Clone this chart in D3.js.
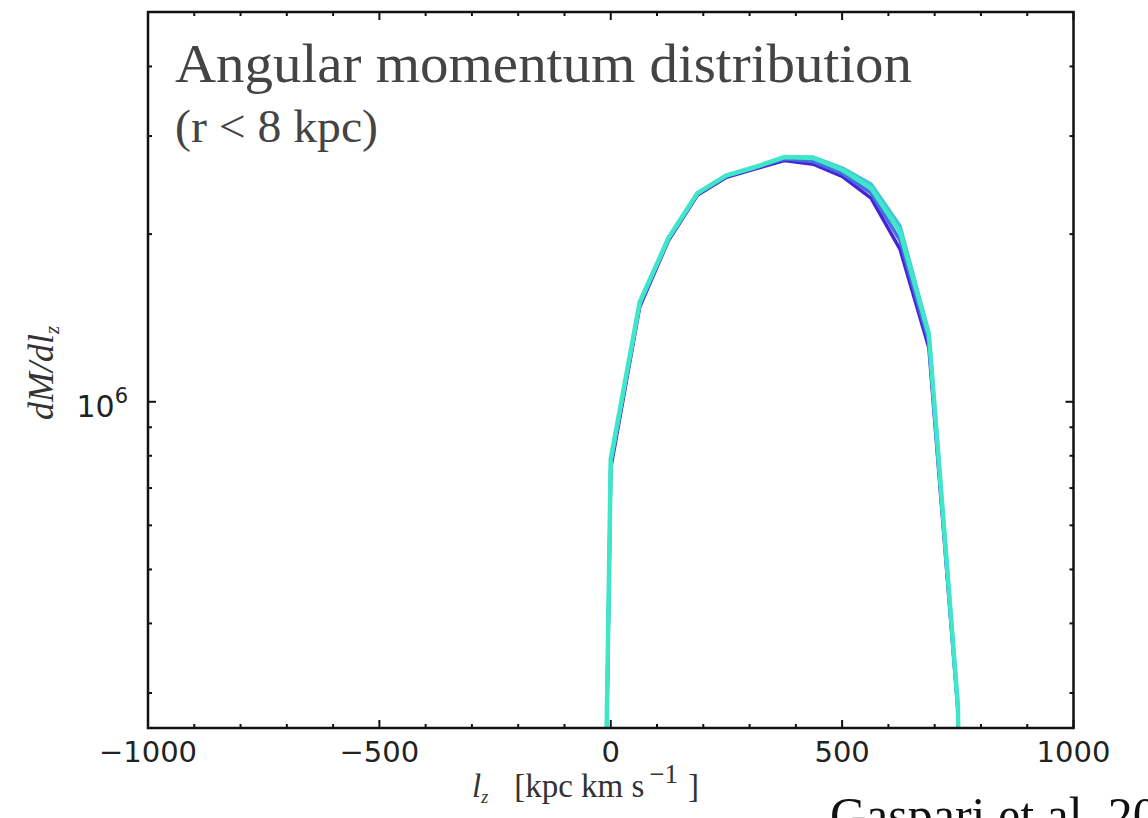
<!DOCTYPE html>
<html>
<head>
<meta charset="utf-8">
<script src="https://cdn.jsdelivr.net/npm/d3@7"></script>
<style>
  body { margin: 0; background: #fff; }
  svg { display: block; }
</style>
</head>
<body>
<div id="chart"></div>
<script>
// bin centres of the angular momentum histogram
var lzBins = [-62.5, 0, 62.5, 125, 187.5, 250, 312.5, 375, 437.5, 500, 562.5, 625, 687.5, 750, 812.5];

// dM/dlz for the different snapshots (blue -> turquoise)
var series1 = [300, 7.6e5, 1.48e6, 1.95e6, 2.35e6, 2.53e6, 2.62e6, 2.71e6, 2.67e6, 2.54e6, 2.32e6, 1.88e6, 1.25e6, 2.80e5, 300];
var series2 = [300, 7.7e5, 1.49e6, 1.96e6, 2.36e6, 2.54e6, 2.63e6, 2.73e6, 2.70e6, 2.57e6, 2.37e6, 1.95e6, 1.28e6, 2.83e5, 300];
var series3 = [300, 7.8e5, 1.50e6, 1.97e6, 2.37e6, 2.55e6, 2.64e6, 2.75e6, 2.75e6, 2.63e6, 2.46e6, 2.07e6, 1.33e6, 2.87e5, 300];
var series4 = [300, 7.9e5, 1.51e6, 1.97e6, 2.37e6, 2.55e6, 2.64e6, 2.75e6, 2.74e6, 2.61e6, 2.42e6, 2.02e6, 1.32e6, 2.86e5, 300];
var seriesColors = ["#4a22d6", "#3f72df", "#42c4da", "#40e6ca"];

var xMajor = [-1000, -500, 0, 500, 1000];
var xMinor = d3.range(-1000, 1001, 100).filter(function(v) { return v % 500 !== 0; });
var yMajor = [1e6];
var yMinor = [3e5, 4e5, 5e5, 6e5, 7e5, 8e5, 9e5, 2e6, 3e6, 4e6];

var W = 1148, H = 818;
var margin = {top: 12, right: 74.5, bottom: 90, left: 148},
    width = W - margin.left - margin.right,
    height = H - margin.top - margin.bottom;

var x = d3.scaleLinear().domain([-1000, 1000]).range([0, width]);
var y = d3.scaleLog().domain([2.596e5, 5.01e6]).range([height, 0]);

var svg = d3.select("#chart").append("svg")
    .attr("width", W)
    .attr("height", H);

var g = svg.append("g")
    .attr("transform", "translate(" + margin.left + "," + margin.top + ")");

g.append("clipPath").attr("id", "clip")
  .append("rect").attr("width", width).attr("height", height);

// the curves
var line = d3.line()
    .x(function(d) { return x(d.lz); })
    .y(function(d) { return y(d.v); });

[series1, series2, series3, series4].forEach(function(s, i) {
    var pts = lzBins.map(function(lz, j) { return {lz: lz, v: s[j]}; });
    g.append("path")
        .datum(pts)
        .attr("clip-path", "url(#clip)")
        .attr("fill", "none")
        .attr("stroke", seriesColors[i])
        .attr("stroke-width", i === 3 ? 4.5 : 3.5)
        .attr("stroke-linejoin", "round")
        .attr("d", line);
});

// inward ticks on all four sides
function ticksX(vals, len, yPos, dir) {
    g.selectAll(null).data(vals).enter().append("line")
        .attr("x1", function(d) { return x(d); })
        .attr("x2", function(d) { return x(d); })
        .attr("y1", yPos)
        .attr("y2", yPos + dir * len)
        .attr("stroke", "#111")
        .attr("stroke-width", 2);
}
function ticksY(vals, len, xPos, dir) {
    g.selectAll(null).data(vals).enter().append("line")
        .attr("y1", function(d) { return y(d); })
        .attr("y2", function(d) { return y(d); })
        .attr("x1", xPos)
        .attr("x2", xPos + dir * len)
        .attr("stroke", "#111")
        .attr("stroke-width", 2);
}
ticksX(xMajor, 8, height, -1);
ticksX(xMinor, 4, height, -1);
ticksX(xMajor, 8, 0, 1);
ticksX(xMinor, 4, 0, 1);
ticksY(yMajor, 8, 0, 1);
ticksY(yMinor, 4, 0, 1);
ticksY(yMajor, 8, width, -1);
ticksY(yMinor, 4, width, -1);

// frame
g.append("rect")
    .attr("width", width)
    .attr("height", height)
    .attr("fill", "none")
    .attr("stroke", "#111")
    .attr("stroke-width", 2.5);

// x tick labels
g.selectAll(null).data(xMajor).enter().append("text")
    .attr("x", function(d) { return x(d); })
    .attr("y", height + 34)
    .attr("text-anchor", "middle")
    .style("font-family", "DejaVu Sans, sans-serif")
    .style("font-size", "29px")
    .style("fill", "#222")
    .text(function(d) { return d < 0 ? "\u2212" + Math.abs(d) : d; });

// y tick label 10^6
var yl = g.selectAll(null).data(yMajor).enter().append("text")
    .attr("x", -20)
    .attr("y", function(d) { return y(d) + 15; })
    .attr("text-anchor", "end")
    .style("font-family", "DejaVu Sans, sans-serif")
    .style("font-size", "30px")
    .style("fill", "#222");
yl.append("tspan").text("10");
yl.append("tspan").attr("dy", -14).style("font-size", "21px").text("6");

// y axis label
var ylab = svg.append("text")
    .attr("transform", "translate(53," + 373 + ") rotate(-90)")
    .attr("text-anchor", "middle")
    .style("font-family", "Liberation Serif, serif")
    .style("font-style", "italic")
    .style("font-size", "36px")
    .style("fill", "#333");
ylab.append("tspan").text("dM/dl");
ylab.append("tspan").attr("dy", 6).style("font-size", "21px").text("z");

// x axis label
var xlab = svg.append("text")
    .attr("x", 472)
    .attr("y", 797)
    .style("font-family", "Liberation Serif, serif")
    .style("font-size", "33px")
    .style("fill", "#333");
xlab.append("tspan").style("font-style", "italic").text("l");
xlab.append("tspan").attr("dy", 6).style("font-size", "18px").style("font-style", "italic").text("z");
xlab.append("tspan").attr("dy", -6).attr("dx", 26).text("[kpc km s");
xlab.append("tspan").attr("dy", -14).attr("dx", 5).style("font-size", "27px").text("\u22121");
xlab.append("tspan").attr("dy", 14).attr("dx", 10).text("]");

// annotation inside the axes
svg.append("text")
    .attr("x", 175)
    .attr("y", 82)
    .attr("textLength", 737)
    .attr("lengthAdjust", "spacingAndGlyphs")
    .style("font-family", "Liberation Serif, serif")
    .style("font-size", "54px")
    .style("fill", "#444")
    .text("Angular momentum distribution");

svg.append("text")
    .attr("x", 175)
    .attr("y", 142)
    .attr("textLength", 203)
    .attr("lengthAdjust", "spacingAndGlyphs")
    .style("font-family", "Liberation Serif, serif")
    .style("font-size", "47px")
    .style("fill", "#444")
    .text("(r < 8 kpc)");

// citation, cut off by the bottom edge as in the source slide
svg.append("text")
    .attr("x", 830)
    .attr("y", 832)
    .style("font-family", "Liberation Serif, serif")
    .style("font-size", "50px")
    .style("fill", "#111")
    .text("Gaspari et al. 20");
</script>
</body>
</html>
